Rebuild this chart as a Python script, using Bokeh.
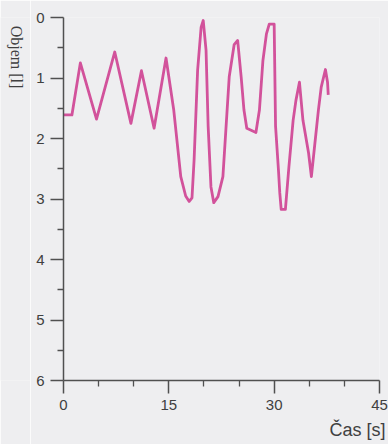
import math
from bokeh.plotting import figure
from bokeh.layouts import row
from bokeh.models import Range1d, FixedTicker, Title
from bokeh.embed import file_html
from bokeh.resources import INLINE

# time [s] and volume [l]
time_s = [0.0, 1.2, 2.4, 4.7, 7.3, 9.6, 11.1, 12.9, 14.6, 15.7, 16.7, 17.4, 17.9, 18.3,
          18.6, 19.1, 19.6, 19.9, 20.3, 20.6, 21.0, 21.4, 22.0, 22.7, 23.1, 23.6, 24.3,
          24.8, 25.3, 25.7, 26.1, 27.4, 27.9, 28.4, 28.9, 29.3, 30.0, 30.2, 30.6, 30.8,
          31.0, 31.6, 32.1, 32.7, 33.1, 33.6, 34.1, 34.9, 35.3, 35.7, 36.3, 36.7, 37.3,
          37.6, 37.7]
volume_l = [1.61, 1.61, 0.75, 1.68, 0.57, 1.75, 0.88, 1.83, 0.67, 1.53, 2.63, 2.95, 3.04, 2.98,
            2.35, 0.87, 0.16, 0.05, 0.54, 1.80, 2.80, 3.06, 2.96, 2.63, 1.90, 0.98, 0.45,
            0.38, 0.98, 1.53, 1.83, 1.90, 1.53, 0.71, 0.27, 0.11, 0.11, 1.80, 2.50, 2.90,
            3.17, 3.17, 2.47, 1.70, 1.37, 1.07, 1.70, 2.24, 2.63, 2.19, 1.53, 1.15, 0.86,
            1.07, 1.28]

x_ticks = [0, 15, 30, 45]
x_minor = [5, 10, 20, 25, 35, 40]
y_ticks = [0, 1, 2, 3, 4, 5, 6]
y_minor = [0.5, 1.5, 2.5, 3.5, 4.5, 5.5]
x_title = "Čas [s]"
y_title = "Objem [l]"

BG = "#eeeef0"
AX = "#505050"
TXT = "#404040"
LINE = "#d2529b"
FONT = "Liberation Sans"

H = 444
LW = 30  # width of the strip holding the vertical y title

# strip with the y title (reads top to bottom)
lab = figure(width=LW, height=H, output_backend="svg", toolbar_location=None,
             x_range=Range1d(0, LW), y_range=Range1d(0, H),
             min_border_left=0, min_border_right=0, min_border_top=0, min_border_bottom=0)
lab.axis.visible = False
lab.grid.visible = False
lab.outline_line_color = None
lab.background_fill_color = BG
lab.border_fill_color = BG
lab.text(x=[16], y=[H - 10], text=[y_title], angle=-math.pi / 2, text_align="left",
         text_baseline="middle", text_font=FONT, text_font_size="16px", text_color=TXT)

p = figure(width=388 - LW, height=H, output_backend="svg", toolbar_location=None,
           x_range=Range1d(0, 45), y_range=Range1d(6, 0),
           min_border_left=63 - LW, min_border_right=9, min_border_top=17, min_border_bottom=62)
p.background_fill_color = BG
p.border_fill_color = BG
p.outline_line_color = None
p.grid.visible = False

p.line(time_s, volume_l, line_color=LINE, line_width=2.8, line_join="round")

for ax in (p.xaxis[0], p.yaxis[0]):
    ax.axis_line_color = AX
    ax.axis_line_width = 1.5
    ax.major_tick_line_color = AX
    ax.major_tick_line_width = 1.5
    ax.minor_tick_line_color = AX
    ax.minor_tick_line_width = 1.3
    ax.major_tick_in = 0
    ax.major_tick_out = 13
    ax.minor_tick_in = 0
    ax.minor_tick_out = 6
    ax.major_label_text_font = FONT
    ax.major_label_text_font_size = "15px"
    ax.major_label_text_color = TXT

p.xaxis[0].ticker = FixedTicker(ticks=x_ticks, minor_ticks=x_minor)
p.yaxis[0].ticker = FixedTicker(ticks=y_ticks, minor_ticks=y_minor)
p.xaxis[0].major_label_standoff = 6
p.yaxis[0].major_label_standoff = 6

# x title: right aligned below the axis
p.add_layout(Title(text=x_title, align="right", offset=-6, standoff=10,
                   text_font=FONT, text_font_size="18px", text_font_style="normal",
                   text_color=TXT), "below")

layout = row(lab, p, spacing=0)
open("out.html", "w").write(file_html(layout, INLINE))
